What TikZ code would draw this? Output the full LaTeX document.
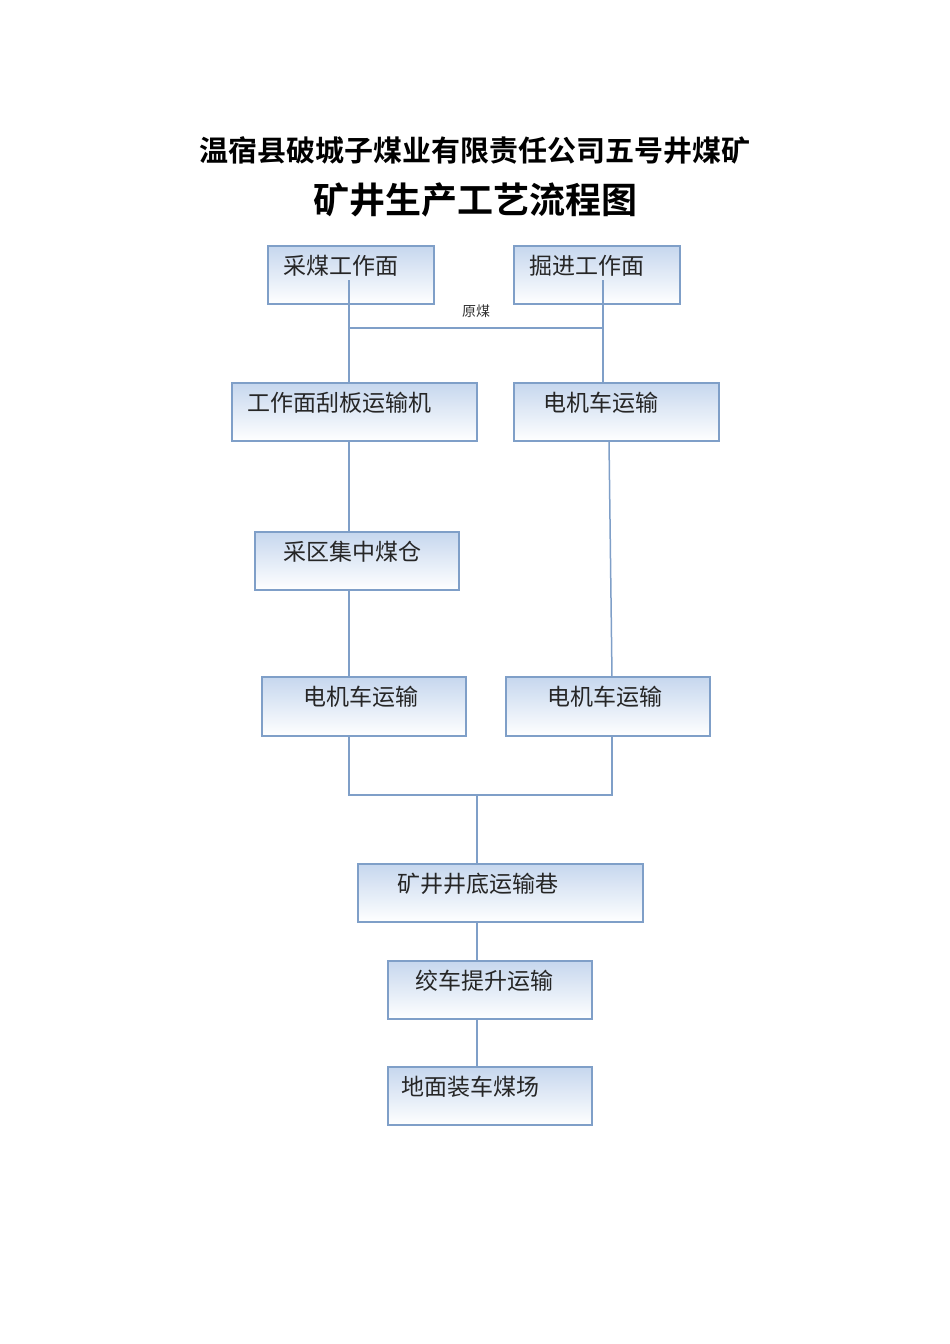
\documentclass[tikz,border=0pt]{standalone}
\usepackage{fontspec}
\setmainfont{Noto Sans CJK SC}
\newfontfamily\cjkb{Noto Sans CJK SC Bold}
\definecolor{bd}{HTML}{7F9FC8}
\definecolor{tp}{HTML}{C6D7EE}
\begin{document}
\begin{tikzpicture}[x=1pt,y=-1pt,
  boxs/.style={draw=bd,line width=1.5pt,top color=tp,bottom color=white},
  lbl/.style={font=\fontsize{23}{23}\selectfont,text=black!85,anchor=west,inner sep=0},
  ln/.style={draw=bd,line width=1.5pt}]
\useasboundingbox (0,0) rectangle (950,1344);
\node[font=\cjkb\fontsize{29}{29}\selectfont] (t1) at (475,150) {温宿县破城子煤业有限责任公司五号井煤矿};
\node[font=\cjkb\fontsize{36}{36}\selectfont] (t2) at (475,200) {矿井生产工艺流程图};
% boxes
\path[boxs] (268,246) rectangle (434,304) coordinate (Abr);
\path[boxs] (514,246) rectangle (680,304);
\path[boxs] (232,383) rectangle (477,441);
\path[boxs] (514,383) rectangle (719,441);
\path[boxs] (255,532) rectangle (459,590);
\path[boxs] (262,677) rectangle (466,736);
\path[boxs] (506,677) rectangle (710,736);
\path[boxs] (358,864) rectangle (643,922);
\path[boxs] (388,961) rectangle (592,1019);
\path[boxs] (388,1067) rectangle (592,1125);
% connectors
\coordinate (a1) at (349,280); \coordinate (a2) at (349,328); \coordinate (a3) at (349,383);
\coordinate (b1) at (603,280); \coordinate (b2) at (603,328); \coordinate (b3) at (603,383);
\draw[ln] (a1)--(a3); \draw[ln] (b1)--(b3); \draw[ln] (a2)--(b2);
\node[font=\fontsize{14}{14}\selectfont,text=black!80] (ym) at (476,311) {原煤};
\coordinate (c1) at (349,441); \coordinate (e1) at (349,532);
\coordinate (e2) at (349,590); \coordinate (f1) at (349,677);
\draw[ln] (c1)--(e1); \draw[ln] (e2)--(f1);
\coordinate (d1) at (609,441); \coordinate (g1) at (612,677);
\draw[ln] (d1)--(g1);
\coordinate (f2) at (349,736); \coordinate (f3) at (349,795);
\coordinate (g2) at (612,736); \coordinate (g3) at (612,795);
\coordinate (m) at (477,795); \coordinate (h1) at (477,864);
\draw[ln] (f2)--(f3)--(g3)--(g2); \draw[ln] (m)--(h1);
\coordinate (h2) at (477,922); \coordinate (i1) at (477,961);
\coordinate (i2) at (477,1019); \coordinate (j1) at (477,1067);
\draw[ln] (h2)--(i1); \draw[ln] (i2)--(j1);
% labels
\node[lbl] (la) at (283,266) {采煤工作面};
\node[lbl] (lb) at (529,266) {掘进工作面};
\node[lbl] (lc) at (247,403) {工作面刮板运输机};
\node[lbl] (ld) at (543,403) {电机车运输};
\node[lbl] (le) at (283,552) {采区集中煤仓};
\node[lbl] (lf) at (303,697) {电机车运输};
\node[lbl] (lg) at (547,697) {电机车运输};
\node[lbl] (lh) at (397,884) {矿井井底运输巷};
\node[lbl] (li) at (415,981) {绞车提升运输};
\node[lbl] (lj) at (401,1087) {地面装车煤场};
\end{tikzpicture}
\end{document}
